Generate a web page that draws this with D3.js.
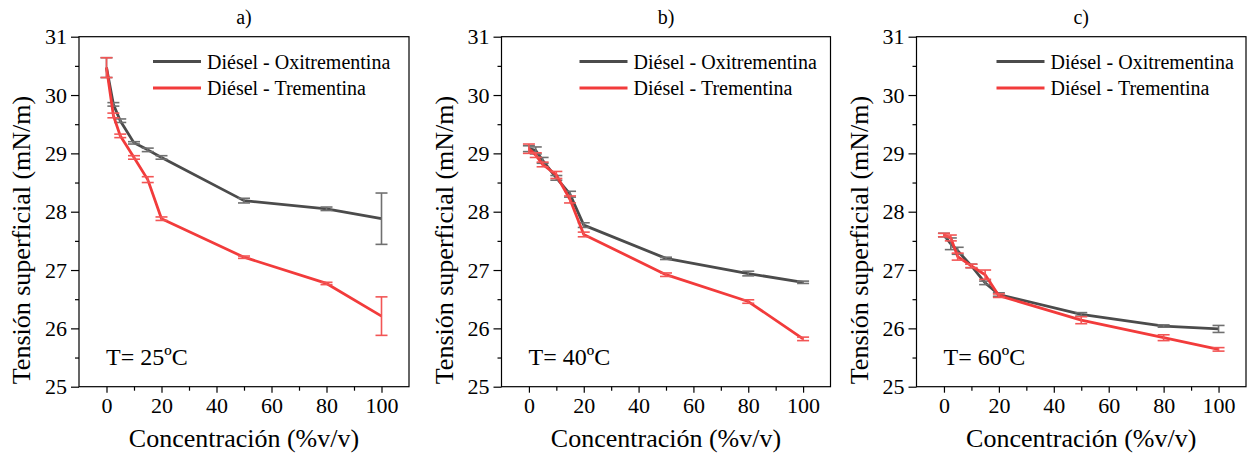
<!DOCTYPE html>
<html>
<head>
<meta charset="utf-8">
<script src="https://cdn.jsdelivr.net/npm/d3@7"></script>
<style>
  body { margin: 0; background: #fff; }
  .frame { fill: none; stroke: #000; stroke-width: 1.2; }
  .axis path { display: none; }
  .axis line { stroke: #000; stroke-width: 1.2; }
  .series { fill: none; stroke-width: 2.8; stroke-linejoin: round; }
  .err { stroke-width: 1.6; fill: none; }
</style>
</head>
<body>
<svg width="1247" height="461"></svg>
<script>
// Concentration of the additive (% v/v), same for every series
const concentration = [0, 2.5, 5, 10, 15, 20, 50, 80, 100];

// Surface tension (mN/m) and error, T = 25 C
const oxi25 = [30.47, 29.84, 29.56, 29.18, 29.06, 28.93, 28.19, 28.05, 27.88];
const oxi25Err = [0.17, 0.03, 0.03, 0.02, 0.03, 0.03, 0.04, 0.03, 0.44];
const trem25 = [30.47, 29.65, 29.30, 28.93, 28.55, 27.88, 27.22, 26.77, 26.21];
const trem25Err = [0.17, 0.04, 0.03, 0.03, 0.05, 0.03, 0.02, 0.02, 0.33];

// T = 40 C
const oxi40 = [29.08, 29.05, 28.88, 28.58, 28.30, 27.77, 27.20, 26.94, 26.79];
const oxi40Err = [0.05, 0.06, 0.05, 0.04, 0.05, 0.04, 0.02, 0.04, 0.02];
const trem40 = [29.08, 28.97, 28.81, 28.63, 28.21, 27.61, 26.92, 26.46, 25.82];
const trem40Err = [0.08, 0.04, 0.04, 0.06, 0.06, 0.04, 0.03, 0.03, 0.03];

// T = 60 C
const oxi60 = [27.60, 27.45, 27.33, 27.07, 26.78, 26.58, 26.24, 26.04, 25.99];
const oxi60Err = [0.03, 0.10, 0.06, 0.03, 0.03, 0.03, 0.03, 0.02, 0.06];
const trem60 = [27.60, 27.55, 27.23, 27.07, 26.92, 26.56, 26.14, 25.84, 25.64];
const trem60Err = [0.03, 0.05, 0.06, 0.03, 0.08, 0.03, 0.06, 0.05, 0.03];

// Axis ticks and labels
const xTicks = [0, 20, 40, 60, 80, 100];
const xMinorTicks = [10, 30, 50, 70, 90];
const yTicks = [25, 26, 27, 28, 29, 30, 31];
const yMinorTicks = [25.5, 26.5, 27.5, 28.5, 29.5, 30.5];
const seriesNames = ['Diésel - Oxitrementina', 'Diésel - Trementina'];
const panelTitles = ['a)', 'b)', 'c)'];
const temperatures = ['T= 25ºC', 'T= 40ºC', 'T= 60ºC'];
const xTitle = 'Concentración (%v/v)';
const yTitle = 'Tensión superficial (mN/m)';

const lineColors = ['#4b4b4b', '#f23b3b'];
const errColors = ['#707070', '#f25555'];
const FONT = 'Liberation Serif';

const panels = [
  {left: 79, right: 409, legendX: 74, series: [[oxi25, oxi25Err], [trem25, trem25Err]]},
  {left: 501.5, right: 830.5, legendX: 78, series: [[oxi40, oxi40Err], [trem40, trem40Err]]},
  {left: 916.5, right: 1246, legendX: 80, series: [[oxi60, oxi60Err], [trem60, trem60Err]]}
];

const svg = d3.select('svg');
const plotTop = 36.7, plotBottom = 386.7;

const y = d3.scaleLinear().domain([25, 31]).range([plotBottom, plotTop]);

function label (sel, size) {
  return sel.append('text')
    .attr('font-family', FONT)
    .attr('font-size', size)
    .attr('fill', '#000');
}

panels.forEach((p, i) => {
  const x = d3.scaleLinear().domain([-10, 110]).range([p.left, p.right]);
  const g = svg.append('g').attr('class', 'panel');

  // Axes
  const xAxis = g.append('g').attr('class', 'axis')
    .attr('transform', `translate(0,${plotBottom})`)
    .call(d3.axisBottom(x).tickValues(xTicks).tickSize(6).tickPadding(5).tickFormat(d3.format('d')));
  g.append('g').attr('class', 'axis')
    .attr('transform', `translate(0,${plotBottom})`)
    .call(d3.axisBottom(x).tickValues(xMinorTicks).tickSize(4).tickFormat(''));
  const yAxis = g.append('g').attr('class', 'axis')
    .attr('transform', `translate(${p.left},0)`)
    .call(d3.axisLeft(y).tickValues(yTicks).tickSize(8).tickPadding(4).tickFormat(d3.format('d')));
  g.append('g').attr('class', 'axis')
    .attr('transform', `translate(${p.left},0)`)
    .call(d3.axisLeft(y).tickValues(yMinorTicks).tickSize(4).tickFormat(''));
  [xAxis, yAxis].forEach(a => a.attr('font-family', FONT).attr('font-size', 22));

  // Series: line then error bars
  const line = d3.line()
    .x((d, k) => x(concentration[k]))
    .y(d => y(d));

  p.series.forEach(([vals, errs], s) => {
    g.append('path')
      .attr('class', 'series')
      .attr('stroke', lineColors[s])
      .attr('d', line(vals));

    const eb = g.append('g').attr('class', 'err').attr('stroke', errColors[s]);
    vals.forEach((v, k) => {
      const cx = x(concentration[k]);
      const y0 = y(v - errs[k]), y1 = y(v + errs[k]);
      eb.append('line').attr('x1', cx).attr('x2', cx).attr('y1', y0).attr('y2', y1);
      eb.append('line').attr('x1', cx - 6).attr('x2', cx + 6).attr('y1', y0).attr('y2', y0);
      eb.append('line').attr('x1', cx - 6).attr('x2', cx + 6).attr('y1', y1).attr('y2', y1);
    });
  });

  // Frame
  g.append('rect').attr('class', 'frame')
    .attr('x', p.left).attr('y', plotTop)
    .attr('width', p.right - p.left).attr('height', plotBottom - plotTop);

  // Legend
  seriesNames.forEach((name, s) => {
    const ly = 61.5 + s * 26.5;
    g.append('line')
      .attr('x1', p.left + p.legendX).attr('x2', p.left + p.legendX + 48)
      .attr('y1', ly).attr('y2', ly)
      .attr('stroke', lineColors[s]).attr('stroke-width', 2.8);
    label(g, 20)
      .attr('x', p.left + p.legendX + 54).attr('y', ly + 7)
      .text(name);
  });

  // Temperature note
  label(g, 24)
    .attr('x', p.left + 27).attr('y', 365)
    .text(temperatures[i]);

  // Titles
  label(g, 20)
    .attr('x', (p.left + p.right) / 2).attr('y', 24)
    .attr('text-anchor', 'middle')
    .text(panelTitles[i]);
  label(g, 26)
    .attr('x', (p.left + p.right) / 2).attr('y', 447)
    .attr('text-anchor', 'middle')
    .text(xTitle);
  label(g, 26)
    .attr('transform', `translate(${p.left - 49},240) rotate(-90)`)
    .attr('text-anchor', 'middle')
    .text(yTitle);
});
</script>
</body>
</html>
